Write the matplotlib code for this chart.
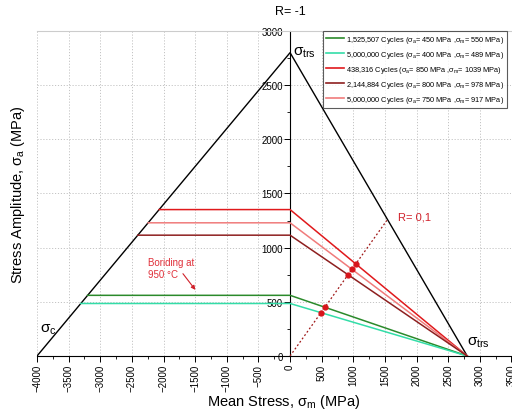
import matplotlib
matplotlib.use("Agg")
import matplotlib.pyplot as plt
from matplotlib.lines import Line2D
from matplotlib.ticker import MultipleLocator
import numpy as np

plt.rcParams['font.family'] = ['Liberation Sans', 'DejaVu Sans']
plt.rcParams['mathtext.fontset'] = 'custom'
plt.rcParams['mathtext.rm'] = 'Liberation Sans'
plt.rcParams['mathtext.it'] = 'Liberation Sans'

# Material limits (MPa)
sigma_trs = 2800
sigma_c = -4000

# Fatigue test series
cycles = ['1,525,507', '5,000,000', '438,316', '2,144,884', '5,000,000']
sigma_a = [450, 400, 850, 800, 750]
sigma_m = [550, 489, 1039, 978, 917]
line_colors = ['#2b8a2b', '#33dda8', '#e0191c', '#f07b7b', '#8e1f1f']
legend_colors = ['#2b8a2b', '#33dda8', '#e0191c', '#8e1f1f', '#f07b7b']

r_line_end = 1530  # extent of the R = 0.1 load line along the mean-stress axis

fig = plt.figure(figsize=(5.12, 4.14), dpi=100)
ax = fig.add_axes([0.0723, 0.1377, 0.9267, 0.785])
ax.set_xlim(-4000, 3500)
ax.set_ylim(0, 3000)

# grid
ax.grid(True, which='major', color='#c4c4c4', linestyle=(0, (1.2, 1.8)), linewidth=0.7)
ax.set_axisbelow(True)

# spines: axes through the origin
ax.spines['left'].set_position(('data', 0))
ax.spines['bottom'].set_position(('data', 0))
ax.spines['right'].set_visible(False)
ax.spines['top'].set_color('#cccccc')
ax.spines['top'].set_linewidth(0.8)
for s in ('left', 'bottom'):
    ax.spines[s].set_linewidth(0.8)

ax.xaxis.set_major_locator(MultipleLocator(500))
ax.xaxis.set_minor_locator(MultipleLocator(250))
ax.yaxis.set_major_locator(MultipleLocator(500))
ax.yaxis.set_minor_locator(MultipleLocator(250))
ax.tick_params(axis='both', which='major', direction='out', length=4, width=0.7, labelsize=7)
ax.tick_params(axis='both', which='minor', direction='out', length=2.5, width=0.6)
ax.tick_params(axis='x', labelrotation=90, pad=1.5)
ax.tick_params(axis='y', pad=1)

# failure envelope
ax.plot([sigma_c, 0, sigma_trs], [0, sigma_trs, 0], color='black', lw=1.0, zorder=3)

# Goodman lines for each series
for sa, sm, col in zip(sigma_a, sigma_m, line_colors):
    se = sa / (1 - sm / sigma_trs)
    x_left = sigma_c * (1 - se / sigma_trs)
    ax.plot([x_left, 0, sigma_trs], [se, se, 0], color=col, lw=1.1, zorder=4)

# R = 0.1 load line
R = 0.1
slope = (1 - R) / (1 + R)
xr = np.array([0, r_line_end])
ax.plot(xr, slope * xr, color='#a01818', lw=0.9, linestyle=(0, (1.5, 1.8)), zorder=5)
ax.plot(sigma_m, sigma_a, 'o', color='#d8141a', markersize=3.5, zorder=6)

# annotations
ax.text(1700, 1290, 'R= 0,1', color='#d0202a', fontsize=8, va='center', ha='left')
ax.text(-2250, 810, 'Boriding at\n950 °C', color='#e0303a', fontsize=7, ha='left',
        va='center', linespacing=1.3)
ax.annotate('', xy=(-1470, 590), xytext=(-1720, 780),
            arrowprops=dict(arrowstyle='-|>', color='#d0202a', lw=0.8,
                            mutation_scale=6))
ax.text(-3960, 180, r'$\sigma_\mathrm{c}$', fontsize=11, ha='left', va='bottom')
ax.text(40, 2740, r'$\sigma_\mathrm{trs}$', fontsize=11, ha='left', va='bottom')
ax.text(2790, 60, r'$\sigma_\mathrm{trs}$', fontsize=11, ha='left', va='bottom')

ax.text(0, 3130, 'R= -1', fontsize=9, ha='center', va='bottom')

ax.set_xlabel(r'Mean Stress, $\sigma_\mathrm{m}$ (MPa)', fontsize=10.5)
ax.set_ylabel(r'Stress Amplitude, $\sigma_\mathrm{a}$ (MPa)', fontsize=10.5)
ax.xaxis.set_label_coords(0.52, -0.11)
ax.yaxis.set_label_coords(-0.021, 0.5)

# legend
handles = [Line2D([0], [0], color=c, lw=1.2) for c in legend_colors]
labels = [rf'{c} Cycles ($\sigma_a$= {a} MPa ,$\sigma_m$= {m} MPa)'
          for c, a, m in zip(cycles, sigma_a, sigma_m)]
leg = ax.legend(handles, labels, loc='upper right', bbox_to_anchor=(0.998, 1.012),
                fontsize=5.3, frameon=True, fancybox=False, handlelength=2.4,
                handletextpad=0.3, borderpad=0.4, labelspacing=0.55)
leg.get_frame().set_edgecolor('#333333')
leg.get_frame().set_linewidth(0.8)

fig.savefig('out.png', dpi=100)
